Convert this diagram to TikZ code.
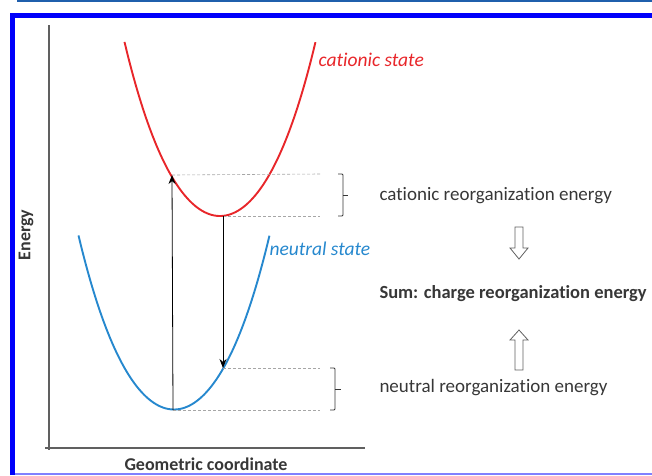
\documentclass[tikz,border=0pt]{standalone}
\usepackage{fontspec}
\setmainfont[Ligatures=NoCommon]{Carlito}
\usetikzlibrary{arrows.meta}
\definecolor{cationred}{RGB}{232,38,42}
\definecolor{neutralblue}{RGB}{38,136,206}
\definecolor{framblue}{RGB}{0,0,250}
\definecolor{txtgray}{RGB}{55,55,55}
\begin{document}
\begin{tikzpicture}[x=1pt,y={(0,-1pt)},line width=1pt,
  curve/.style={line width=1.9pt},
  level/.style={densely dashed,gray!70,line width=0.6pt},
  bracket/.style={txtgray,line width=0.8pt,rounded corners=1pt},
  trans/.style={-{Stealth[length=9pt,width=7pt]},black,line width=0.8pt},
  hollow/.style={draw=gray!75!black,fill=white,line width=0.8pt,line join=miter},
  label/.style={anchor=west,text=txtgray,font=\fontsize{19}{22}\selectfont,inner sep=0pt},
  every node/.style={inner sep=0pt}]
 \useasboundingbox (0,0) rectangle (652,475);
 % frame
 \draw[line width=2.5pt,color={rgb,255:red,31;green,95;blue,172}] (17,1) -- (652,1);
 \draw[line width=1.5pt,color={rgb,255:red,128;green,128;blue,255}] (14,473.8) -- (652,473.8);
 \draw[line width=5pt,framblue] (12.5,475) -- (12.5,15.5) -- (652,15.5);
 % axes
 \draw[gray!75!black,line width=1.1pt] (49,25) -- (49,450);
 \draw[gray!75!black,line width=1.1pt] (45,448) -- (365,448);
 \node[font=\bfseries\fontsize{18}{20}\selectfont,text=txtgray,anchor=base] (xlab) at (206,470.5) {Geometric coordinate};
 \node[font=\bfseries\fontsize{18}{20}\selectfont,text=txtgray,rotate=90] (ylab) at (26,235) {Energy};
 % potential curves
 \draw[curve,cationred] plot[domain=-0.955:0.955,samples=80,smooth] ({220+100*\x},{216-162*\x*\x-31.65*\x*\x*\x*\x});
 \draw[curve,neutralblue] plot[domain=-0.955:0.955,samples=80,smooth] ({174+100*\x},{409.5-162*\x*\x-31.65*\x*\x*\x*\x});
 \node[anchor=west,text=cationred,font=\itshape\fontsize{19.5}{22}\selectfont] (cat) at (318,60) {cationic state};
 \node[anchor=west,text=neutralblue,font=\itshape\fontsize{19.5}{22}\selectfont] (neu) at (269,249) {neutral state};
 % levels
 \coordinate (nmin) at (173,410); \coordinate (cvert) at (172,175);
 \coordinate (cmin) at (223,216); \coordinate (nrel) at (223,368);
 \draw[level] (cvert) -- (320,174);
 \draw[level] (cmin) -- (320,216);
 \draw[level] (nrel) -- (320,368);
 \draw[level] (nmin) -- (320,410);
 \draw[trans] (nmin) -- (cvert);
 \draw[trans] (cmin) -- (nrel);
 % brackets
 \draw[bracket] (338,174) -- (343,174) -- (343,216) -- (338,216);
 \draw[bracket] (343,195) -- (348,195);
 \draw[bracket] (330,368) -- (335,368) -- (335,410) -- (330,410);
 \draw[bracket] (335,389) -- (341,389);
 % energies
 \node[label] (catre) at (379,196) {cationic reorganization energy};
 \node[label,font=\bfseries\fontsize{18.5}{22}\selectfont] (sum) at (379,294) {Sum: charge reorganization energy};
 \node[label] (neure) at (379,388) {neutral reorganization energy};
 \draw[hollow] (515,227) -- (523,227) -- (523,248) -- (528,248) -- (519,259)
   -- (510,248) -- (515,248) -- cycle;
 \draw[hollow] (515,370) -- (523,370) -- (523,340) -- (528,340) -- (519,330)
   -- (510,340) -- (515,340) -- cycle;
\end{tikzpicture}
\end{document}
